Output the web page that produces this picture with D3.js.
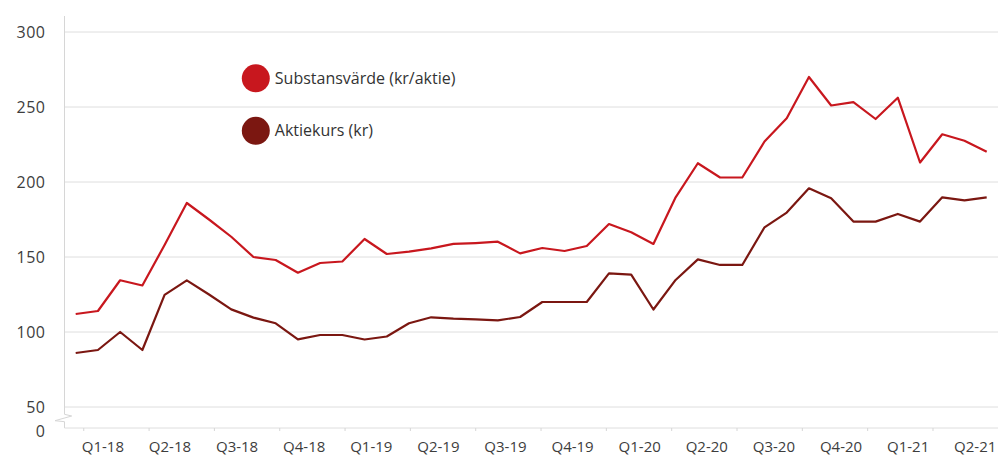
<!DOCTYPE html>
<html>
<head>
<meta charset="utf-8">
<script src="https://cdn.jsdelivr.net/npm/d3@7"></script>
<style>
  body { margin: 0; background: #fff; }
  text { font-family: "Open Sans", sans-serif; }
</style>
</head>
<body>
<svg id="chart" width="998" height="457"></svg>
<script>
// quarter labels under the x axis
var quarters = ["Q1-18","Q2-18","Q3-18","Q4-18","Q1-19","Q2-19","Q3-19","Q4-19",
                "Q1-20","Q2-20","Q3-20","Q4-20","Q1-21","Q2-21"];

// y axis ticks (axis is broken between 0 and 50)
var yTicks = [0, 50, 100, 150, 200, 250, 300];

// Substansvärde (kr/aktie)
var substans = [112, 114, 134.5, 131, 158, 186, 175, 163.5, 150, 148,
                139.5, 146, 147, 162, 152, 153.6, 155.8, 158.7, 159.3, 160.2,
                152.4, 156, 154, 157.3, 172, 166.5, 158.7, 189.8, 212.5, 203,
                203, 227, 242.5, 270, 251, 253.3, 242, 256.2, 213, 231.8,
                227.5, 220.2];

// Aktiekurs (kr)
var aktiekurs = [86, 88, 100, 88, 124.7, 134.4, 125, 115.1, 109.6, 105.8,
                 95.1, 98, 98, 95, 97, 105.8, 109.8, 108.9, 108.4, 107.8,
                 110, 120, 120, 120, 139.1, 138.2, 115, 134.7, 148.4, 144.7,
                 144.7, 169.8, 179.6, 195.8, 189.1, 173.6, 173.6, 178.7, 173.6, 189.8,
                 187.8, 189.8];

var seriesNames = ["Substansvärde (kr/aktie)", "Aktiekurs (kr)"];
var seriesColors = ["#c8171e", "#7b1711"];

var svg = d3.select("#chart");
var axisX = 64.5, axisY = 428, rightEdge = 998;

// x is the month index, y is piecewise so 0 sits just under 50
var x = d3.scaleLinear().domain([0, substans.length - 1]).range([75.7, 986.7]);
var y = d3.scaleLinear().domain([0, 50, 300]).range([axisY, 407, 32]);

// gridlines
svg.append("g").selectAll("line")
  .data(yTicks.filter(function(d){ return d > 0; }))
  .enter().append("line")
  .attr("x1", axisX).attr("x2", rightEdge)
  .attr("y1", function(d){ return y(d); }).attr("y2", function(d){ return y(d); })
  .attr("stroke", "#dedede").attr("stroke-width", 1);

// y axis line with the break marker
svg.append("path")
  .attr("d", "M" + axisX + ",16V414.3L71.7,416L55,420.7L" + axisX + ",421.7V" + axisY)
  .attr("fill", "none").attr("stroke", "#d6d6d6").attr("stroke-width", 1);

// bottom axis line
svg.append("line")
  .attr("x1", axisX).attr("x2", rightEdge).attr("y1", axisY).attr("y2", axisY)
  .attr("stroke", "#dedede");

// y labels
var yAxis = d3.axisLeft(y).tickValues(yTicks).tickSize(0).tickPadding(19);
var gy = svg.append("g").attr("transform", "translate(" + axisX + ",0)").call(yAxis);
gy.select(".domain").remove();
gy.selectAll("text").attr("font-size", 16).attr("fill", "#3d3d3d")
  .attr("letter-spacing", 0.5)
  .attr("font-family", "'Open Sans', sans-serif");
gy.selectAll(".tick").filter(function(d){ return d === 0; })
  .select("text").attr("dy", "0.55em");

// small tick marks on the x axis
var tickIdx = quarters.map(function(q, k){ return 0.34 + 2.94 * k; });
var xTicks = d3.axisBottom(x).tickValues(tickIdx).tickSize(3).tickFormat("");
var gt = svg.append("g").attr("transform", "translate(0," + axisY + ")").call(xTicks);
gt.select(".domain").remove();
gt.selectAll("line").attr("stroke", "#d6d6d6");

// quarter labels
var labelIdx = quarters.map(function(q, k){ return 1.2 + 3.02 * k; });
var xLabels = d3.axisBottom(x).tickValues(labelIdx).tickSize(0).tickPadding(13)
  .tickFormat(function(d, i){ return quarters[i]; });
var gx = svg.append("g").attr("transform", "translate(0," + axisY + ")").call(xLabels);
gx.select(".domain").remove();
gx.selectAll("text").attr("font-size", 15).attr("fill", "#3d3d3d")
  .attr("font-family", "'Open Sans', sans-serif");

// lines
var line = d3.line()
  .x(function(d, i){ return x(i); })
  .y(function(d){ return y(d); });

[substans, aktiekurs].forEach(function(s, j){
  svg.append("path")
    .datum(s)
    .attr("d", line)
    .attr("fill", "none")
    .attr("stroke", seriesColors[j])
    .attr("stroke-width", 2.2)
    .attr("stroke-linejoin", "round");
});

// legend
var legend = svg.append("g").selectAll("g")
  .data(seriesNames).enter().append("g")
  .attr("transform", function(d, i){ return "translate(255.8," + (78.3 + i * 52.5) + ")"; });
legend.append("circle").attr("r", 14)
  .attr("fill", function(d, i){ return seriesColors[i]; });
legend.append("text")
  .attr("x", 19).attr("dy", "0.35em")
  .attr("font-size", 16).attr("fill", "#333")
  .text(function(d){ return d; });
</script>
</body>
</html>
